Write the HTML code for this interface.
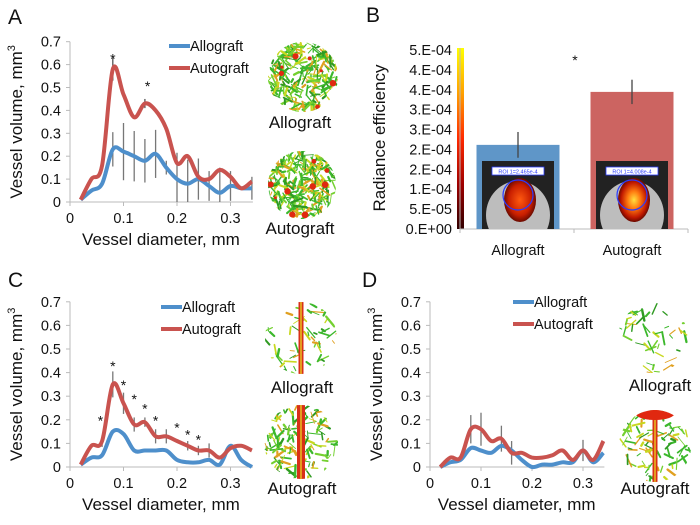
<!DOCTYPE html>
<html><head><meta charset="utf-8"><style>
html,body{margin:0;padding:0;background:#fff;}
svg{display:block;font-family:"Liberation Sans",Arial,sans-serif;}
</style></head><body>
<svg id="fig" width="700" height="525" viewBox="0 0 700 525">
<defs>
<linearGradient id="cbar" x1="0" y1="0" x2="0" y2="1">
<stop offset="0" stop-color="#ffff00"/><stop offset="0.25" stop-color="#ffa000"/><stop offset="0.5" stop-color="#ff2a00"/><stop offset="0.75" stop-color="#a00000"/><stop offset="1" stop-color="#300000"/></linearGradient>
<radialGradient id="glowA"><stop offset="0" stop-color="#ff5a10"/><stop offset="0.7" stop-color="#c81e00"/><stop offset="1" stop-color="#6a0a00"/></radialGradient>
<radialGradient id="glowB"><stop offset="0" stop-color="#ffe040"/><stop offset="0.4" stop-color="#ff7a10"/><stop offset="0.8" stop-color="#c01800"/><stop offset="1" stop-color="#6a0a00"/></radialGradient>
</defs>
<g id="layer"></g>
</svg>
<script>
// ---------- data ----------
const diam = [0.02,0.04,0.06,0.08,0.10,0.12,0.14,0.16,0.18,0.20,0.22,0.24,0.26,0.28,0.30,0.32,0.34];
const yTicks = [0,0.1,0.2,0.3,0.4,0.5,0.6,0.7];
const yTickLabels = ["0","0.1","0.2","0.3","0.4","0.5","0.6","0.7"];
const xTicks = [0,0.1,0.2,0.3];
const xTickLabels = ["0","0.1","0.2","0.3"];
// Panel A
const allograftA = [0.01,0.05,0.08,0.23,0.22,0.20,0.18,0.21,0.15,0.10,0.08,0.10,0.07,0.04,0.07,0.06,0.06];
const autograftA = [0.01,0.10,0.16,0.58,0.47,0.37,0.43,0.40,0.32,0.17,0.20,0.11,0.10,0.14,0.11,0.06,0.09];
const errA = [0,0,0,0.075,0.125,0.11,0.095,0.105,0.03,0.115,0.105,0.09,0.065,0.11,0.065,0,0.05];
const errAutoA = [0,0,0,0.05,0,0,0.02,0,0,0,0,0,0,0,0,0,0];
const starsA = [[0.08,0.64],[0.145,0.52]];
// Panel C
const allograftC = [0.01,0.04,0.05,0.15,0.14,0.07,0.07,0.07,0.07,0.03,0.02,0.02,0.03,0.01,0.09,0.03,0.0];
const autograftC = [0.01,0.09,0.11,0.35,0.27,0.18,0.19,0.13,0.13,0.11,0.09,0.07,0.07,0.04,0.08,0.09,0.07];
const errC = [0,0,0.025,0.055,0.045,0.03,0.02,0.03,0.03,0,0.02,0.02,0.03,0,0,0,0];
const starsC = [[0.057,0.21],[0.08,0.44],[0.10,0.36],[0.12,0.30],[0.14,0.26],[0.16,0.21],[0.20,0.18],[0.22,0.15],[0.24,0.13]];
// Panel D
const allograftD = [0.0,0.02,0.03,0.08,0.07,0.06,0.09,0.07,0.03,0.0,0.01,0.01,0.02,0.02,0.07,0.02,0.06];
const autograftD = [0.0,0.04,0.04,0.16,0.16,0.11,0.12,0.06,0.06,0.04,0.04,0.05,0.07,0.03,0.07,0.03,0.11];
const errD = [0,0,0,0.06,0.07,0,0.055,0.05,0,0,0,0,0,0,0.045,0,0];
// Panel B
const groupsB = ["Allograft","Autograft"];
const radianceB = [2.35e-4,3.83e-4];
const radErrB = [0.36e-4,0.34e-4];
const bTickLabels = ["5.E-04","4.E-04","4.E-04","3.E-04","3.E-04","2.E-04","2.E-04","1.E-04","5.E-05","0.E+00"];

const NS="http://www.w3.org/2000/svg";
const root=document.getElementById('layer');
function mk(tag,attrs,parent){const e=document.createElementNS(NS,tag);for(const k in attrs)e.setAttribute(k,attrs[k]);(parent||root).appendChild(e);return e;}
function txt(s,x,y,size,anchor,parent){const t=mk('text',{x:x,y:y,'font-size':size,'text-anchor':anchor||'start',fill:'#111'},parent);t.textContent=s;return t;}
function smooth(pts){let d='M'+pts[0][0]+','+pts[0][1];for(let i=0;i<pts.length-1;i++){const p0=pts[i-1]||pts[i],p1=pts[i],p2=pts[i+1],p3=pts[i+2]||p2;const c1=[p1[0]+(p2[0]-p0[0])/6,p1[1]+(p2[1]-p0[1])/6],c2=[p2[0]-(p3[0]-p1[0])/6,p2[1]-(p3[1]-p1[1])/6];d+=' C'+c1[0].toFixed(1)+','+c1[1].toFixed(1)+' '+c2[0].toFixed(1)+','+c2[1].toFixed(1)+' '+p2[0].toFixed(1)+','+p2[1].toFixed(1);}return d;}

let seed=7;function rnd(){seed=(seed*16807)%2147483647;return seed/2147483647;}
function vessels(cx,cy,r,kind,name){
  const g=mk('g',{});
  
  
  const id='clip'+name;const cp=mk('clipPath',{id:id},g);mk('circle',{cx:cx,cy:cy,r:r},cp);
  const gg=mk('g',{'clip-path':'url(#'+id+')'},g);
  const n=kind==='dense'?260:(kind==='sparse'?45:(kind==='trunkD'?90:(kind==='trunkC'?130:60)));
  const cols=['#3cb82c','#74d030','#c8d820','#e0a020','#2f9a22','#3cb82c'];
  for(let i=0;i<n;i++){const a=rnd()*6.283,rr=Math.sqrt(rnd())*r;const x=cx+Math.cos(a)*rr,y=cy+Math.sin(a)*rr;const ang=rnd()*6.283,l=3+rnd()*10;
    mk('line',{x1:x,y1:y,x2:x+Math.cos(ang)*l,y2:y+Math.sin(ang)*l,stroke:cols[i%6],'stroke-width':0.8+rnd()*1.6,'stroke-linecap':'round'},gg);}
  if(kind==='dense'){for(let i=0;i<10;i++){mk('circle',{cx:cx-r+rnd()*2*r,cy:cy-r+rnd()*2*r,r:1.5+rnd()*2,fill:'#e02810'},gg);}}
  if(kind==='trunk'||kind==='trunkD'||kind==='trunkC'){const w=kind==='trunkC'?8:5;mk('rect',{x:cx-w/2,y:cy-r,width:w,height:2*r,fill:'#d83018'},gg);mk('line',{x1:cx,y1:cy-r,x2:cx,y2:cy+r,stroke:'#e8c020','stroke-width':1.5},gg);
    if(kind==='trunkD'){mk('ellipse',{cx:cx,cy:cy-r+3,rx:20,ry:7,fill:'#e02810'},gg);}}
}

function linePanel(o){
  const X=v=>o.x0+v*o.xs, Y=v=>o.y0-v*o.ys;
  const g=mk('g',{});
  const ax=mk('line',{x1:o.x0,y1:Y(0.7),x2:o.x0,y2:o.y0,stroke:'#bbb','stroke-width':1},g);
  
  const xa=mk('line',{x1:o.x0,y1:o.y0,x2:X(0.34)+1,y2:o.y0,stroke:'#bbb','stroke-width':1},g);
  
  yTicks.forEach((v,i)=>{mk('line',{x1:o.x0-4,y1:Y(v),x2:o.x0,y2:Y(v),stroke:'#bbb'},g);const t=txt(yTickLabels[i],o.x0-9,Y(v)+5,14.5,'end',g);});
  xTicks.forEach((v,i)=>{mk('line',{x1:X(v),y1:o.y0,x2:X(v),y2:o.y0+4,stroke:'#bbb'},g);const t=txt(xTickLabels[i],X(v),o.y0+21,14.5,'middle',g);});
  const xt=txt('Vessel diameter, mm',o.x0+o.xs*0.17,o.y0+43,17,'middle',g);
  
  const yt=mk('text',{transform:'translate('+(o.x0-48)+','+(Y(0.35))+') rotate(-90)','font-size':17,'text-anchor':'middle',fill:'#111'},g);
  yt.innerHTML='Vessel volume, mm<tspan font-size="11" dy="-7">3</tspan>';
  
  o.err.forEach((e,i)=>{if(e>0){const c=o.errOn[i];const b=mk('line',{x1:X(diam[i]),y1:Y(c+e),x2:X(diam[i]),y2:Y(Math.max(0,c-e)),stroke:'#777','stroke-width':1.3},g);}});
  if(o.err2)o.err2.forEach((e,i)=>{if(e>0){const c=o.auto[i];const b=mk('line',{x1:X(diam[i]),y1:Y(c+e),x2:X(diam[i]),y2:Y(c-e),stroke:'#555','stroke-width':1.3},g);}});
  const pa=mk('path',{d:smooth(diam.map((d,i)=>[X(d),Y(o.allo[i])])),fill:'none',stroke:'#4e8fcb','stroke-width':4,'stroke-linejoin':'round'},g);
  
  const pb=mk('path',{d:smooth(diam.map((d,i)=>[X(d),Y(o.auto[i])])),fill:'none',stroke:'#c9534f','stroke-width':4,'stroke-linejoin':'round'},g);
  
  (o.stars||[]).forEach(s=>{const t=txt('*',X(s[0]),Y(s[1])+8,14,'middle',g);});
  const lg=mk('g',{},g);
  const l1=mk('line',{x1:o.lx,y1:o.ly,x2:o.lx+21,y2:o.ly,stroke:'#4e8fcb','stroke-width':4},lg);
  
  const t1=txt('Allograft',o.lx+21,o.ly+5,14.5,'start',lg);
  const l2=mk('line',{x1:o.lx,y1:o.ly+22,x2:o.lx+21,y2:o.ly+22,stroke:'#c9534f','stroke-width':4},lg);
  
  const t2=txt('Autograft',o.lx+21,o.ly+27,14.5,'start',lg);
}

linePanel({name:'panel-a-chart',x0:70,y0:202,xs:535,ys:229,allo:allograftA,auto:autograftA,err:errA,errOn:allograftA,err2:errAutoA,stars:starsA,lx:169,ly:46});
linePanel({name:'panel-c-chart',x0:70,y0:467,xs:535,ys:236,allo:allograftC,auto:autograftC,err:errC,errOn:autograftC,stars:starsC,lx:161,ly:307});
linePanel({name:'panel-d-chart',x0:430,y0:467,xs:510,ys:236,allo:allograftD,auto:autograftD,err:errD,errOn:autograftD,lx:513,ly:302});

[['A',8,24],['B',366,22],['C',8,287],['D',362,287]].forEach(p=>{const t=txt(p[0],p[1],p[2],21,'start');});

vessels(303,77,35,'dense','panel-a-allograft-image');
vessels(302,185,34,'dense','panel-a-autograft-image');
vessels(301,338,36,'trunk','panel-c-allograft-image');
vessels(301,442,37,'trunkC','panel-c-autograft-image');
vessels(653,338,35,'sparse','panel-d-allograft-image');
vessels(655,446,36,'trunkD','panel-d-autograft-image');
[['Allograft',300,128,'a'],['Autograft',300,234,'a'],['Allograft',302,393,'c'],['Autograft',302,494,'c'],['Allograft',660,391,'d'],['Autograft',655,494,'d']].forEach(p=>{const t=txt(p[0],p[1],p[2],17,'middle');});

// ---------- Panel B ----------
(function(){
  const y0=229,yTop=50,x0=460;const Y=v=>y0-v/5e-4*(y0-yTop);
  const g=mk('g',{});
  const cb=mk('rect',{x:457,y:48,width:7,height:181,fill:'url(#cbar)'},g);
  mk('line',{x1:x0,y1:48,x2:x0,y2:y0,stroke:'#bbb'},g);
  const xa=mk('line',{x1:x0,y1:y0,x2:688,y2:y0,stroke:'#bbb'},g);
  [x0,574,688].forEach(x=>mk('line',{x1:x,y1:y0,x2:x,y2:y0+4,stroke:'#bbb'},g));
  bTickLabels.forEach((s,i)=>{const t=txt(s,452,yTop+i*(y0-yTop)/9+5,14.5,'end',g);});
  const yt=mk('text',{transform:'translate(385,138) rotate(-90)','font-size':17,'text-anchor':'middle',fill:'#111'},g);yt.textContent='Radiance efficiency';
  
  const cols=['#5f96c8','#cc6461'],cx=[518,632],glows=['glowA','glowB'],roi=['ROI 1=2.465e-4','ROI 1=4.008e-4'];
  groupsB.forEach((nm,i)=>{
    const b=mk('rect',{x:cx[i]-41.5,y:Y(radianceB[i]),width:83,height:y0-Y(radianceB[i]),fill:cols[i]},g);
    
    const e=mk('line',{x1:cx[i],y1:Y(radianceB[i]+radErrB[i]),x2:cx[i],y2:Y(radianceB[i]-radErrB[i]),stroke:'#444','stroke-width':1.3},g);
    
    const im=mk('g',{},g);
    const cp=mk('clipPath',{id:'mclip'+i},im);mk('rect',{x:cx[i]-36,y:161,width:72,height:68},cp);
    const ig=mk('g',{'clip-path':'url(#mclip'+i+')'},im);
    mk('rect',{x:cx[i]-36,y:161,width:72,height:68,fill:'#222'},ig);
    mk('ellipse',{cx:cx[i],cy:215,rx:32,ry:34,fill:'#bdbdbd'},ig);
    mk('ellipse',{cx:cx[i]+2,cy:200,rx:16,ry:22,fill:'url(#'+glows[i]+')'},ig);
    mk('circle',{cx:cx[i],cy:195,r:15,fill:'none',stroke:'#2a3cff','stroke-width':1.2},ig);
    mk('rect',{x:cx[i]-26,y:167,width:52,height:8,fill:'#fff',stroke:'#2a3cff','stroke-width':0.8},ig);
    const rt=txt(roi[i],cx[i],173.5,5.5,'middle',ig);rt.setAttribute('fill','#2a3cff');
    const lt=txt(nm,cx[i],255,14.5,'middle',g);
  });
  const st=txt('*',575,65,14,'middle',g);
})();
</script>
</body></html>
